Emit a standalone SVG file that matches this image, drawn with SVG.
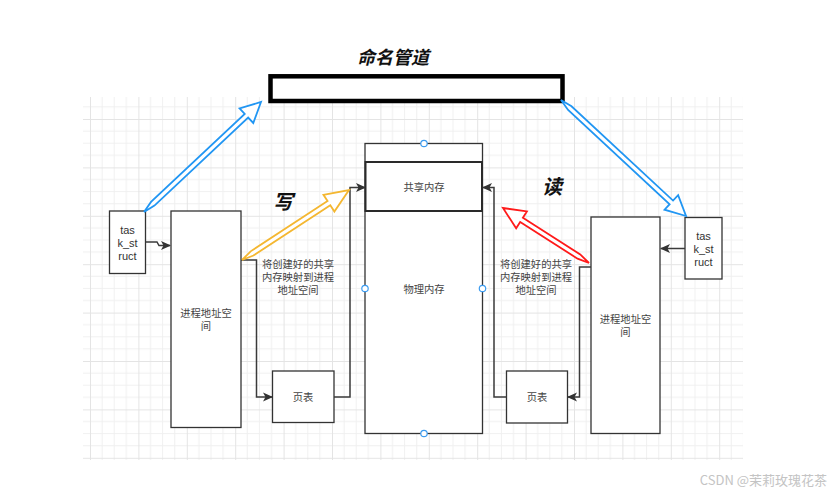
<svg xmlns="http://www.w3.org/2000/svg" width="839" height="496" viewBox="0 0 839 496">
<style>
.box{fill:#fff;stroke:#333;stroke-width:1.3}
.t{font-family:"Noto Sans CJK SC","Liberation Sans",sans-serif;font-size:10.3px;fill:#444;text-anchor:middle}
.lat{font-family:"Liberation Sans","Noto Sans CJK SC",sans-serif;font-size:11px;fill:#333;text-anchor:middle}
.big{font-family:"Noto Sans CJK SC",sans-serif;font-weight:bold;font-style:italic;fill:#111;text-anchor:middle}
.conn{fill:none;stroke:#3a3a3a;stroke-width:1.5}
.pt{fill:#fff;stroke:#3d9cf0;stroke-width:1.2}
.dbl{stroke-width:1.8;fill:#fff;stroke-linejoin:miter}
</style>
<defs>
<pattern id="grid" patternUnits="userSpaceOnUse" x="90" y="119" width="48.4" height="48.4">
<path d="M12.1,0V48.4M24.2,0V48.4M36.3,0V48.4M0,12.1H48.4M0,24.2H48.4M0,36.3H48.4" stroke="#f0f0f0" stroke-width="1" fill="none"/>
<path d="M0.5,0V48.4M0,0.5H48.4" stroke="#e4e4e4" stroke-width="1" fill="none"/>
</pattern>
<marker id="ah" viewBox="0 0 10 10" refX="9" refY="5" markerWidth="10" markerHeight="10" markerUnits="userSpaceOnUse" orient="auto">
<path d="M0,0.5 L10,5 L0,9.5 L2.5,5 Z" fill="#333"/>
</marker>
</defs>
<rect width="839" height="496" fill="#fff"/>
<rect x="83" y="97" width="660" height="363" fill="url(#grid)"/>

<text class="big" x="393" y="64" font-size="18">命名管道</text>
<g id="pipe"><rect x="270.5" y="76.3" width="292" height="24.7" fill="#fff" stroke="#000" stroke-width="4.5"/></g>

<text class="big" x="283" y="209" font-size="20">写</text>
<text class="big" x="552" y="194" font-size="20">读</text>

<g id="task_left"><rect class="box" x="109.5" y="211" width="36" height="62.5"/>
<text class="lat" x="127.5" y="234">tas</text><text class="lat" x="127.5" y="247">k_st</text><text class="lat" x="127.5" y="260">ruct</text></g>

<g id="proc_left"><rect class="box" x="171" y="211" width="70" height="216.5"/>
<text class="t" x="206" y="317">进程地址空</text><text class="t" x="206" y="330">间</text></g>

<g id="pt_left"><rect class="box" x="272.5" y="371" width="61.5" height="51.5"/>
<text class="t" x="303" y="401">页表</text></g>

<g id="phys"><rect class="box" x="365" y="143.5" width="117.5" height="290"/>
<rect x="365.5" y="162" width="116.5" height="49" fill="#fff" stroke="#2a2a2a" stroke-width="2"/>
<text class="t" x="424" y="191">共享内存</text>
<text class="t" x="424" y="293">物理内存</text>
<circle class="pt" cx="424" cy="143.5" r="3.2"/><circle class="pt" cx="365" cy="288.5" r="3.2"/>
<circle class="pt" cx="482.5" cy="288.5" r="3.2"/><circle class="pt" cx="424" cy="433.5" r="3.2"/></g>

<g id="pt_right"><rect class="box" x="506.5" y="371" width="61" height="52"/>
<text class="t" x="537" y="401">页表</text></g>

<g id="proc_right"><rect class="box" x="591" y="217" width="69" height="216.5"/>
<text class="t" x="625.5" y="323">进程地址空</text><text class="t" x="625.5" y="336">间</text></g>

<g id="task_right"><rect class="box" x="685" y="217.5" width="37" height="61.5"/>
<text class="lat" x="703.5" y="240">tas</text><text class="lat" x="703.5" y="253">k_st</text><text class="lat" x="703.5" y="266">ruct</text></g>

<g id="label_left"><text class="t" x="298" y="268">将创建好的共享</text><text class="t" x="298" y="281">内存映射到进程</text><text class="t" x="298" y="294">地址空间</text></g>
<g id="label_right"><text class="t" x="536" y="268">将创建好的共享</text><text class="t" x="536" y="281">内存映射到进程</text><text class="t" x="536" y="294">地址空间</text></g>

<g id="connectors">
<path class="conn" d="M145.5,242 H157 L159,245.5 H170" marker-end="url(#ah)"/>
<path class="conn" d="M241,260 H256.5 V397 H272" marker-end="url(#ah)"/>
<path class="conn" d="M334,397 H350 V187.5 H365" marker-end="url(#ah)"/>
<path class="conn" d="M506.5,397 H494 V187.5 H483" marker-end="url(#ah)"/>
<path class="conn" d="M591,267 H579.5 V397 H568" stroke-width="2" marker-end="url(#ah)"/>
<path class="conn" d="M685,248.5 H661" marker-end="url(#ah)"/>
<polygon class="dbl" stroke="#2196f3" points="144,212 154.45,205.6 248.14,117.52 253.28,122.99 261,102 239.58,108.41 244.72,113.88 151.03,201.96"/>
<polygon class="dbl" stroke="#2196f3" points="561,100 568.1,109.99 669.64,204.22 664.54,209.72 686,216 678.14,195.06 673.04,200.56 571.5,106.33"/>
<polygon class="dbl" stroke="#f4b731" points="242,260 253.41,255.52 330.29,205.23 334.39,211.51 349,190 323.45,194.77 327.55,201.05 250.67,251.34"/>
<polygon class="dbl" stroke="#ff1a1a" points="589,263 580.24,254.43 522.88,217.74 526.92,211.43 503,208 516.14,228.27 520.18,221.96 577.54,258.65"/>
</g>

<text x="827" y="485" font-family="'Noto Sans CJK SC','Liberation Sans',sans-serif" font-size="13" fill="#c4c4c4" text-anchor="end">CSDN @茉莉玫瑰花茶</text>
</svg>
